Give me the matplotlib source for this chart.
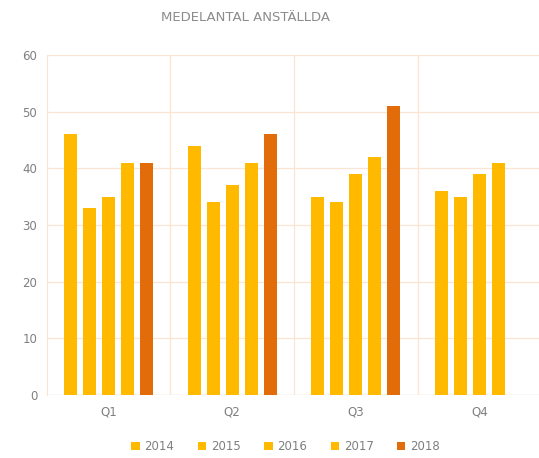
import numpy as np
import matplotlib
matplotlib.use("Agg")
from matplotlib import pyplot as plt

# Data
quarters = ["Q1", "Q2", "Q3", "Q4"]
years = ["2014", "2015", "2016", "2017", "2018"]
v2014 = [46, 44, 35, 36]
v2015 = [33, 34, 34, 35]
v2016 = [35, 37, 39, 39]
v2017 = [41, 41, 42, 41]
v2018 = [41, 46, 51, np.nan]
series = [v2014, v2015, v2016, v2017, v2018]
colors = ["#FFBA00", "#FFBA00", "#FFBA00", "#FFBA00", "#E26B0A"]
yticks = [0, 10, 20, 30, 40, 50, 60]

fig = plt.figure(figsize=(5.39, 4.58), dpi=100)
ax = fig.add_axes([0.087, 0.138, 0.917, 0.742])

x = np.arange(len(quarters))
pitch = 0.154
width = 0.104
for i, (vals, c, yr) in enumerate(zip(series, colors, years)):
    ax.bar(x + (i - 2) * pitch, vals, width, color=c, label=yr, zorder=3)

grid_c = "#FBE4D2"
ax.set_xlim(-0.5, 3.5)
ax.set_ylim(0, 60)
ax.set_yticks(yticks)
ax.set_xticks(x)
ax.set_xticklabels(quarters)
ax.set_xticks(x[:-1] + 0.5, minor=True)
ax.grid(axis="y", color=grid_c, lw=0.9, zorder=0)
ax.grid(axis="x", which="minor", color=grid_c, lw=0.9, zorder=0)
for s in ["top", "right", "bottom"]:
    ax.spines[s].set_visible(False)
ax.spines["left"].set_color(grid_c)
ax.axhline(0, color="#E8E0D8", lw=0.9, zorder=2)
ax.tick_params(which="both", length=0, colors="#7F7F7F", labelsize=8.5)
ax.tick_params(axis="x", pad=8)
ax.tick_params(axis="y", pad=7)

fig.text(0.455, 0.962, "MEDELANTAL ANSTÄLLDA", ha="center", va="center",
         fontsize=9.5, color="#8C8C8C")

leg = fig.legend(loc="center", bbox_to_anchor=(0.53, 0.025), ncol=5, frameon=False,
                 fontsize=8.5, handlelength=0.7, handleheight=0.7, handletextpad=0.4,
                 columnspacing=2.0)
for t in leg.get_texts():
    t.set_color("#7F7F7F")

fig.savefig("out.png", dpi=100, facecolor="white")
